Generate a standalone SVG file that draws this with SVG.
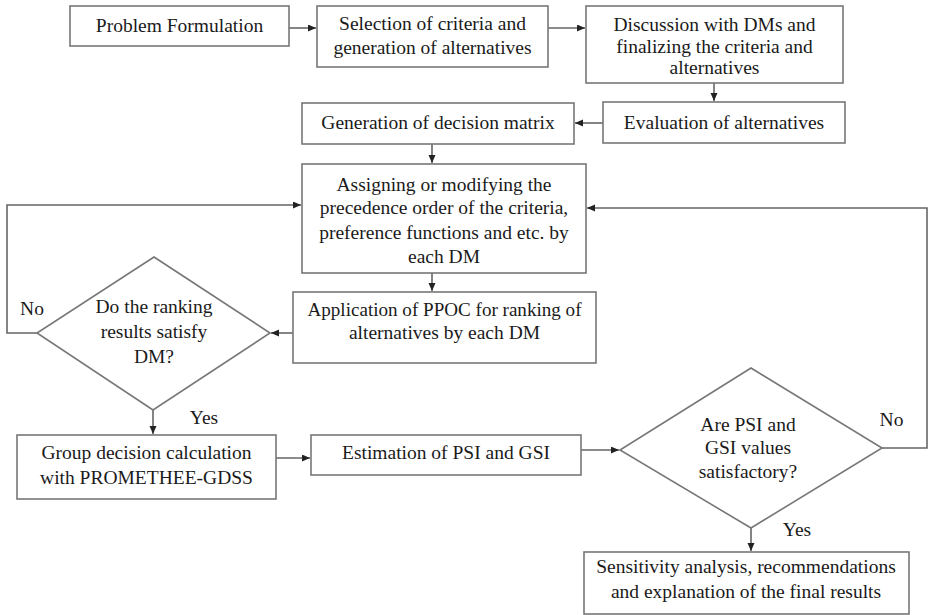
<svg xmlns="http://www.w3.org/2000/svg" width="929" height="615" viewBox="0 0 929 615">
<defs>
<marker id="arr" markerWidth="9" markerHeight="8" refX="8" refY="3.5" orient="auto" markerUnits="userSpaceOnUse">
<path d="M0,0 L8,3.5 L0,7 z" fill="#222"/>
</marker>
<style>
.box{fill:#fff;stroke:#777;stroke-width:1.6}
.t{font-family:"Liberation Serif","Times New Roman",serif;font-size:19.5px;fill:#1a1a1a;text-anchor:middle}
.c{fill:none;stroke:#666;stroke-width:1.6;marker-end:url(#arr)}
</style>
</defs>
<rect width="929" height="615" fill="#fff"/>
<g id="connectors">
<path class="c" d="M289,28 H316"/>
<path class="c" d="M548,28 H585"/>
<path class="c" d="M714,83 V101"/>
<path class="c" d="M603,123 H575"/>
<path class="c" d="M432,144 V163"/>
<path class="c" d="M432,273 V291"/>
<path class="c" d="M293,333 H271"/>
<path class="c" d="M37,333 H7 V205 H301"/>
<path class="c" d="M153,410 V434"/>
<path class="c" d="M276,458 H310"/>
<path class="c" d="M581,450 H619"/>
<path class="c" d="M882,448 H927 V208 H587"/>
<path class="c" d="M751,528 V551"/>
</g>
<g id="n1"><rect class="box" x="70" y="6" width="219" height="40"/><text class="t" x="179.5" y="32">Problem Formulation</text></g>
<g id="n2"><rect class="box" x="317" y="6" width="231" height="61"/><text class="t" x="432.5" y="30">Selection of criteria and</text><text class="t" x="432.5" y="54">generation of alternatives</text></g>
<g id="n3"><rect class="box" x="586" y="6" width="257" height="77"/><text class="t" x="714.5" y="31">Discussion with DMs and</text><text class="t" x="714.5" y="53">finalizing the criteria and</text><text class="t" x="714.5" y="74">alternatives</text></g>
<g id="n4"><rect class="box" x="603" y="102" width="242" height="41"/><text class="t" x="724" y="129">Evaluation of alternatives</text></g>
<g id="n5"><rect class="box" x="302" y="103" width="272" height="41"/><text class="t" x="438" y="129">Generation of decision matrix</text></g>
<g id="n6"><rect class="box" x="302" y="164" width="284" height="109"/><text class="t" x="444" y="191">Assigning or modifying the</text><text class="t" x="444" y="214">precedence order of the criteria,</text><text class="t" x="444" y="239">preference functions and etc. by</text><text class="t" x="444" y="263">each DM</text></g>
<g id="n7"><rect class="box" x="293" y="292" width="303" height="71"/><text class="t" x="444.5" y="316" textLength="274" lengthAdjust="spacingAndGlyphs">Application of PPOC for ranking of</text><text class="t" x="444.5" y="339">alternatives by each DM</text></g>
<g id="n8"><polygon class="box" points="154,257 270,333 153,410 37,333"/><text class="t" x="154" y="313">Do the ranking</text><text class="t" x="154" y="338">results satisfy</text><text class="t" x="154" y="363">DM?</text></g>
<g id="n9"><rect class="box" x="17" y="435" width="259" height="64"/><text class="t" x="146.5" y="459">Group decision calculation</text><text class="t" x="146.5" y="484">with PROMETHEE-GDSS</text></g>
<g id="n10"><rect class="box" x="311" y="435" width="270" height="40"/><text class="t" x="446" y="459">Estimation of PSI and GSI</text></g>
<g id="n11"><polygon class="box" points="751,368 882,448 751,528 620,450"/><text class="t" x="748" y="431">Are PSI and</text><text class="t" x="748" y="454">GSI values</text><text class="t" x="748" y="478">satisfactory?</text></g>
<g id="n12"><rect class="box" x="584" y="552" width="325" height="62"/><text class="t" x="746" y="573">Sensitivity analysis, recommendations</text><text class="t" x="746" y="598">and explanation of the final results</text></g>
<g id="labels">
<text class="t" x="32" y="315">No</text>
<text class="t" x="204" y="424">Yes</text>
<text class="t" x="891.5" y="426">No</text>
<text class="t" x="797" y="536">Yes</text>
</g>
</svg>
